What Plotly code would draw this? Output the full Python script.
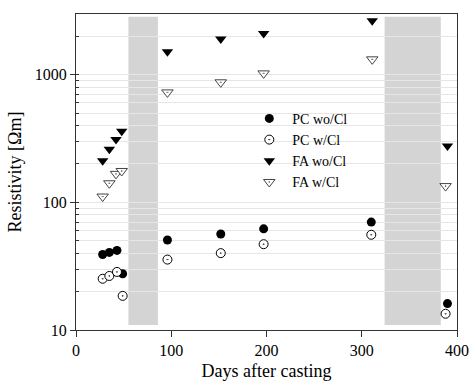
import plotly.graph_objects as go

# Data (days after casting, resistivity in Ohm*m)
days_pc = [28, 35, 43, 49, 96, 152, 197, 310, 390]
pc_wo_cl = [39, 40.5, 42, 27.6, 50.7, 56.5, 62, 70, 16.1]
days_pc_w = [28, 35, 43, 49, 96, 152, 197, 310, 388]
pc_w_cl = [25.2, 26.5, 28.5, 18.5, 35.6, 40, 47, 55.7, 13.4]

days_fa = [28, 35, 42, 48, 96, 152, 197, 311, 390]
fa_wo_cl = [212, 261, 311, 360, 1510, 1900, 2100, 2640, 276]
days_fa_w = [28, 35, 42, 48, 96, 152, 197, 311, 388]
fa_w_cl = [111, 141, 167, 176, 726, 871, 1023, 1318, 134]

bands = [(55, 86), (324, 383)]

FONT = "Liberation Serif"
GRID = "#e6e6e6"
AX = "#333333"

fig = go.Figure()
fig.add_trace(go.Scatter(x=days_pc, y=pc_wo_cl, mode="markers", name="PC wo/Cl",
                         marker=dict(symbol="circle", size=9, color="black")))
fig.add_trace(go.Scatter(x=days_pc_w, y=pc_w_cl, mode="markers", name="PC w/Cl",
                         marker=dict(symbol="circle-dot", size=9, color="white",
                                     line=dict(color="black", width=1))))
fig.add_trace(go.Scatter(x=days_fa, y=fa_wo_cl, mode="markers", name="FA wo/Cl",
                         marker=dict(symbol="triangle-down", size=10, color="black")))
fig.add_trace(go.Scatter(x=days_fa_w, y=fa_w_cl, mode="markers", name="FA w/Cl",
                         marker=dict(symbol="triangle-down-dot", size=10, color="white",
                                     line=dict(color="#444444", width=1))))

shapes = []
for x0, x1 in bands:
    shapes.append(dict(type="rect", xref="x", yref="paper", x0=x0, x1=x1,
                       y0=0.016, y1=0.991, fillcolor="#d4d4d4", line=dict(width=0),
                       layer="between"))
# white legend background covering gridlines
shapes.append(dict(type="rect", xref="paper", yref="paper", x0=0.423, x1=0.746,
                   y0=0.437, y1=0.734, fillcolor="white", line=dict(width=0),
                   layer="between"))

fig.update_layout(
    width=475, height=381,
    margin=dict(l=76, r=18, t=14, b=51),
    paper_bgcolor="white", plot_bgcolor="white",
    font=dict(family=FONT, size=16, color="black"),
    shapes=shapes,
    showlegend=True,
    legend=dict(x=0.447, y=0.719, xanchor="left", yanchor="top",
                bgcolor="rgba(0,0,0,0)", font=dict(size=14, family=FONT),
                itemwidth=36, tracegroupgap=0),
    xaxis=dict(range=[0, 400], tickvals=[0, 100, 200, 300, 400],
               ticks="outside", ticklen=6, tickcolor=AX,
               showline=True, linecolor=AX, linewidth=1, mirror=True,
               showgrid=False, zeroline=False, automargin=False,
               title=dict(text="Days after casting", font=dict(size=18, family=FONT), standoff=12),
               tickfont=dict(size=16, family=FONT)),
    yaxis=dict(type="log", range=[1, 3.475], tickvals=[10, 100, 1000],
               ticktext=["10", "100", "1000"],
               ticks="outside", ticklen=5, tickcolor=AX,
               showline=True, linecolor=AX, linewidth=1, mirror=True,
               showgrid=True, gridcolor=GRID, gridwidth=1, zeroline=False,
               automargin=False,
               minor=dict(dtick="D1", ticks="inside", ticklen=3, tickcolor=AX,
                          showgrid=True, gridcolor=GRID, gridwidth=1),
               title=dict(text="Resistivity [Ωm]", font=dict(size=18, family=FONT), standoff=8),
               tickfont=dict(size=16, family=FONT)),
    yaxis2=dict(type="log", range=[1, 3.475], overlaying="y", side="right",
                tickvals=[10, 100, 1000], showticklabels=False, automargin=False,
                ticks="inside", ticklen=5, tickcolor=AX, showgrid=False,
                showline=False, zeroline=False),
)

fig.write_html("out.html")
